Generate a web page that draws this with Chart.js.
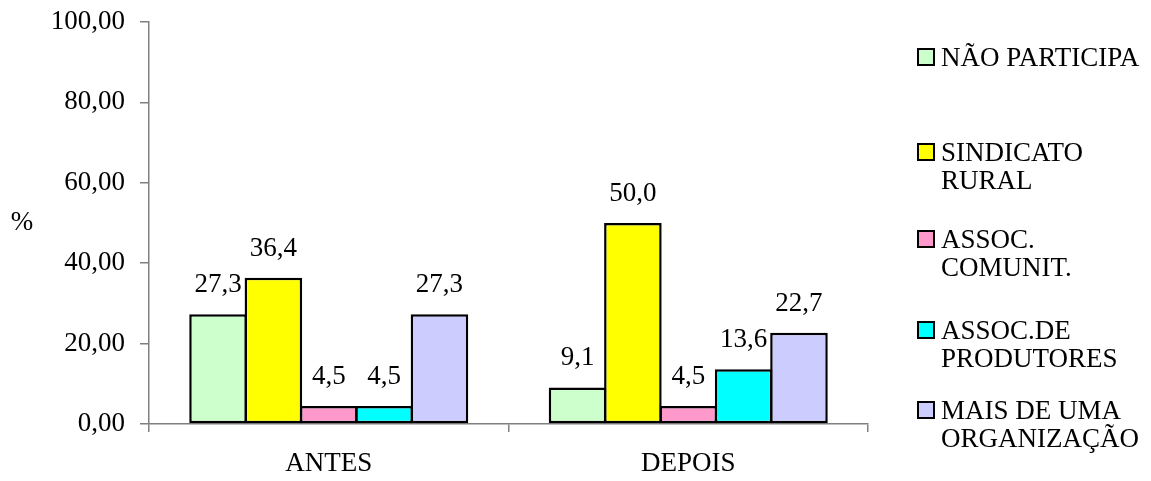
<!DOCTYPE html>
<html>
<head>
<meta charset="utf-8">
<script src="https://cdn.jsdelivr.net/npm/chart.js@4.4.0/dist/chart.umd.min.js"></script>
<style>
  html, body { margin: 0; padding: 0; background: #ffffff; }
  #wrap { position: relative; width: 1151px; height: 481px; }
  #chart { position: absolute; left: 0; top: 0; }
  #legend { position: absolute; left: 0; top: 0; width: 1151px; height: 481px; pointer-events: none;
            font-family: "Liberation Serif", "Times New Roman", serif; font-size: 27px; color: #000; }
  .item { position: absolute; left: 917px; display: flex; align-items: flex-start; }
  .box { width: 14px; height: 14px; border: 2px solid #000; margin-top: 5px; margin-right: 6px; flex: none; }
  .txt { line-height: 28px; white-space: nowrap; }
</style>
</head>
<body>
<div id="wrap">
  <canvas id="chart" width="1151" height="481"></canvas>
  <div id="legend"></div>
</div>
<script>
// Groups on the x axis
const categories = ['ANTES', 'DEPOIS'];

// Organisation types (legend text, '\n' marks the wrap)
const seriesNames = [
  'NÃO PARTICIPA',
  'SINDICATO\nRURAL',
  'ASSOC.\nCOMUNIT.',
  'ASSOC.DE\nPRODUTORES',
  'MAIS DE UMA\nORGANIZAÇÃO'
];

// Percentages per organisation type: [ANTES, DEPOIS]
const naoParticipa = [27.3, 9.1];
const sindicatoRural = [36.4, 50.0];
const assocComunit = [4.5, 4.5];
const assocProdutores = [4.5, 13.6];
const maisDeUma = [27.3, 22.7];

// Y axis ticks
const yTicks = [0, 20, 40, 60, 80, 100];

const seriesValues = [naoParticipa, sindicatoRural, assocComunit, assocProdutores, maisDeUma];
const seriesColors = ['#CCFFCC', '#FFFF00', '#FF99CC', '#00FFFF', '#CCCCFF'];

const FONT = '"Liberation Serif", "Times New Roman", serif';
const FS = 27;

const fmt1 = v => v.toFixed(1).replace('.', ',');
const fmt2 = v => v.toFixed(2).replace('.', ',');

// Value labels above each bar
const valueLabels = {
  id: 'valueLabels',
  afterDatasetsDraw(chart) {
    const ctx = chart.ctx;
    ctx.save();
    ctx.font = FS + 'px ' + FONT;
    ctx.fillStyle = '#000';
    ctx.textAlign = 'center';
    ctx.textBaseline = 'alphabetic';
    chart.data.datasets.forEach((ds, i) => {
      chart.getDatasetMeta(i).data.forEach((bar, j) => {
        ctx.fillText(fmt1(ds.data[j]), bar.x, bar.y - 22);
      });
    });
    ctx.restore();
  }
};

// Unrotated "%" title beside the value axis
const yTitle = {
  id: 'yTitle',
  afterDraw(chart) {
    const ctx = chart.ctx;
    const a = chart.chartArea;
    ctx.save();
    ctx.font = FS + 'px ' + FONT;
    ctx.fillStyle = '#000';
    ctx.textAlign = 'center';
    ctx.textBaseline = 'middle';
    ctx.fillText('%', 22, (a.top + a.bottom) / 2);
    ctx.restore();
  }
};

const datasets = seriesNames.map((name, i) => ({
  label: name.replace('\n', ' '),
  data: seriesValues[i],
  backgroundColor: seriesColors[i],
  borderColor: '#000000',
  borderWidth: 2.5,
  borderSkipped: false,
  categoryPercentage: 0.77,
  barPercentage: 1.04
}));

new Chart(document.getElementById('chart'), {
  type: 'bar',
  data: { labels: categories, datasets },
  options: {
    responsive: false,
    animation: false,
    events: [],
    layout: { padding: { left: 0, right: 283, top: 22, bottom: 0 } },
    plugins: {
      legend: { display: false },
      tooltip: { enabled: false }
    },
    scales: {
      x: {
        offset: true,
        grid: {
          offset: true,
          drawOnChartArea: false,
          drawTicks: true,
          tickLength: 8,
          color: '#808080',
          lineWidth: 1.5
        },
        border: { display: true, color: '#808080', width: 1.5 },
        ticks: {
          font: { family: FONT, size: FS },
          color: '#000',
          padding: 16,
          maxRotation: 0
        },
        afterFit(scale) { scale.height = 57; }
      },
      y: {
        min: 0,
        max: 100,
        afterBuildTicks(scale) { scale.ticks = yTicks.map(v => ({ value: v })); },
        grid: {
          drawOnChartArea: false,
          drawTicks: true,
          tickLength: 9,
          color: '#808080',
          lineWidth: 1.5
        },
        border: { display: true, color: '#808080', width: 1.5 },
        ticks: {
          font: { family: FONT, size: FS },
          color: '#000',
          padding: 15,
          callback: v => fmt2(v)
        },
        afterFit(scale) {
          scale.width = 149;
          scale.paddingTop = 0;
          scale.paddingBottom = 0;
        }
      }
    }
  },
  plugins: [valueLabels, yTitle]
});

// Legend entries at the right of the plot
const legendTops = [43, 138, 225, 316, 396];
const legend = document.getElementById('legend');
seriesNames.forEach((name, i) => {
  const item = document.createElement('div');
  item.className = 'item';
  item.style.top = legendTops[i] + 'px';
  const box = document.createElement('div');
  box.className = 'box';
  box.style.background = seriesColors[i];
  const txt = document.createElement('div');
  txt.className = 'txt';
  name.split('\n').forEach((line, k) => {
    if (k) txt.appendChild(document.createElement('br'));
    txt.appendChild(document.createTextNode(line));
  });
  item.appendChild(box);
  item.appendChild(txt);
  legend.appendChild(item);
});
</script>
</body>
</html>
